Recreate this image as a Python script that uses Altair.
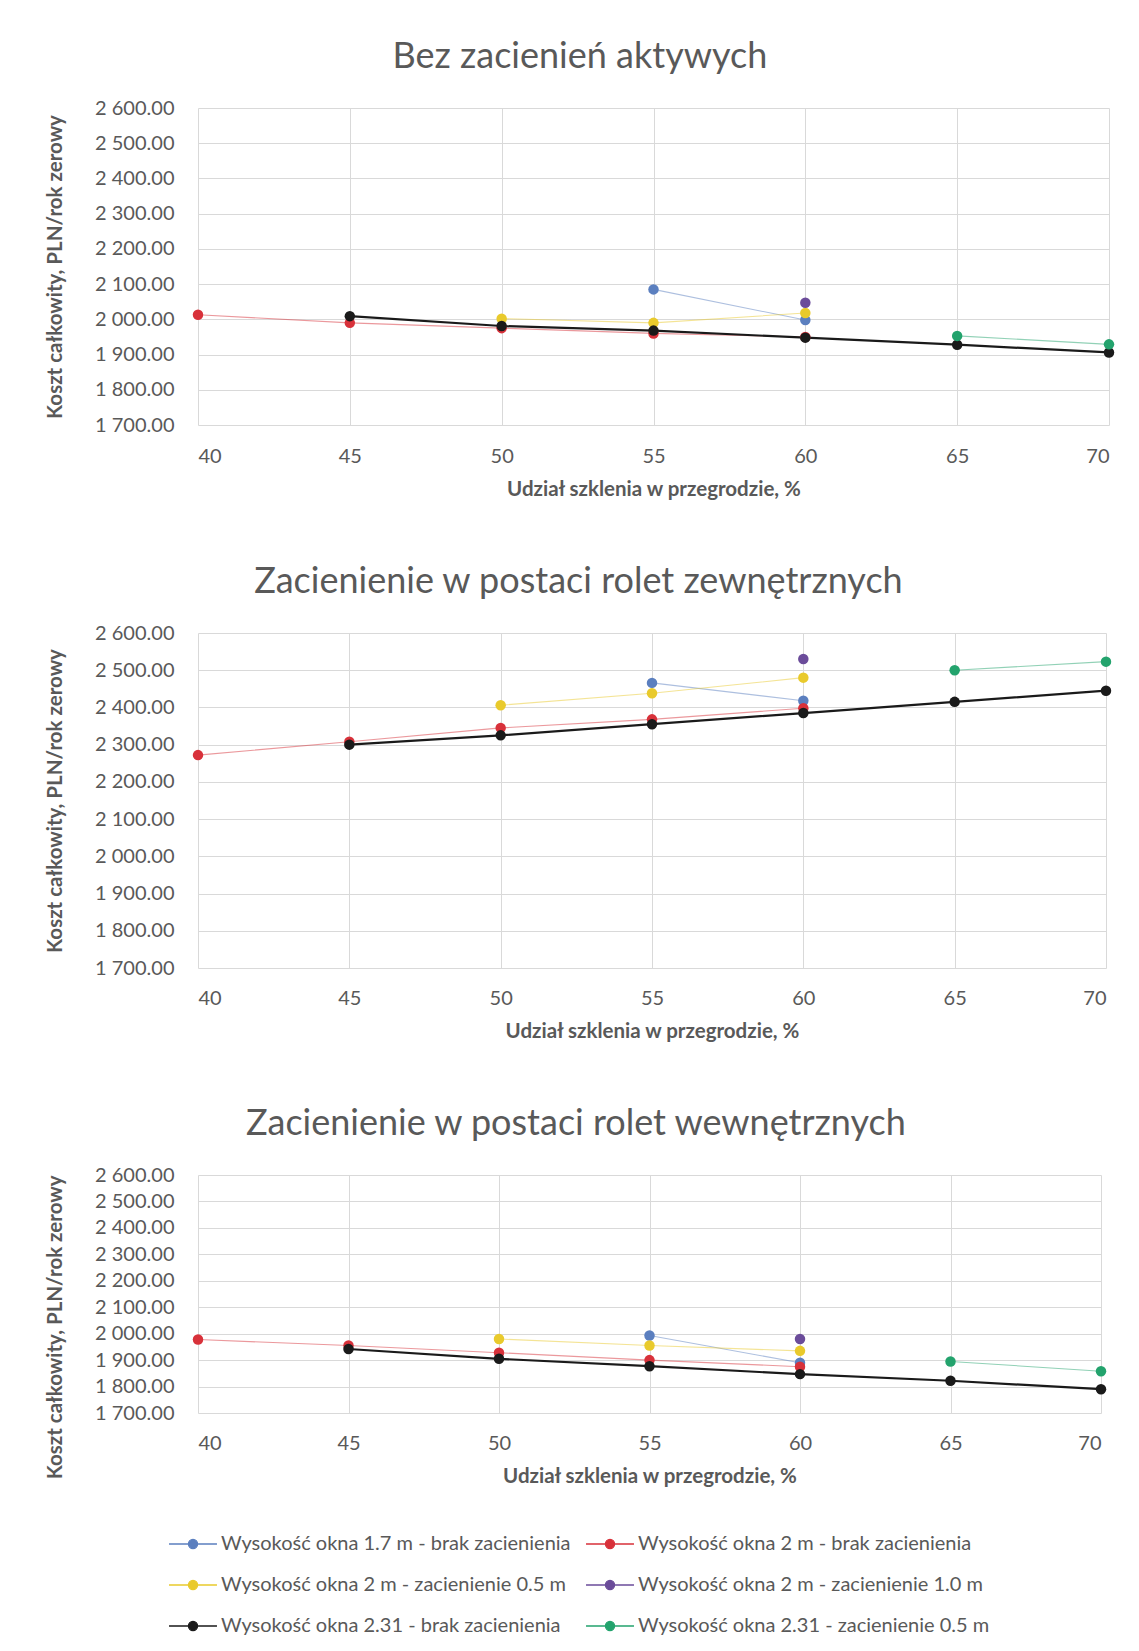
import altair as alt
import pandas as pd

# ---------------- data ----------------
x_ticks = [40, 45, 50, 55, 60, 65, 70]
y_ticks = [1700, 1800, 1900, 2000, 2100, 2200, 2300, 2400, 2500, 2600]

series_names = [
    "Wysokość okna 1.7 m - brak zacienienia",
    "Wysokość okna 2 m - brak zacienienia",
    "Wysokość okna 2 m - zacienienie 0.5 m",
    "Wysokość okna 2 m - zacienienie 1.0 m",
    "Wysokość okna 2.31 - brak zacienienia",
    "Wysokość okna 2.31 - zacienienie 0.5 m",
]
series_colors = ["#5B7FBF", "#D8313A", "#E9CA2C", "#6B4C9A", "#1A1A1A", "#23A36D"]

x_blue = [55, 60]
x_red = [40, 45, 50, 55, 60]
x_yellow = [50, 55, 60]
x_purple = [60]
x_black = [45, 50, 55, 60, 65, 70]
x_green = [65, 70]

# Chart 1: Bez zacienień aktywych
c1_blue = [2085, 1998]
c1_red = [2013, 1990, 1975, 1960, 1950]
c1_yellow = [2002, 1990, 2018]
c1_purple = [2047]
c1_black = [2009, 1981, 1968, 1948, 1928, 1906]
c1_green = [1953, 1929]

# Chart 2: rolety zewnętrzne
c2_blue = [2466, 2418]
c2_red = [2272, 2308, 2345, 2368, 2398]
c2_yellow = [2406, 2438, 2480]
c2_purple = [2530]
c2_black = [2300, 2325, 2355, 2385, 2415, 2445]
c2_green = [2500, 2523]

# Chart 3: rolety wewnętrzne
c3_blue = [1993, 1890]
c3_red = [1978, 1955, 1928, 1900, 1875]
c3_yellow = [1980, 1955, 1935]
c3_purple = [1980]
c3_black = [1942, 1905, 1877, 1847, 1822, 1790]
c3_green = [1895, 1858]

titles = [
    "Bez zacienień aktywych",
    "Zacienienie w postaci rolet zewnętrznych",
    "Zacienienie w postaci rolet wewnętrznych",
]
x_title = "Udział szklenia w przegrodzie, %"
y_title = "Koszt całkowity, PLN/rok zerowy"

xs = [x_blue, x_red, x_yellow, x_purple, x_black, x_green]


def make_df(vals):
    rows = []
    for name, xv, yv in zip(series_names, xs, vals):
        for a, b in zip(xv, yv):
            rows.append({"series": name, "x": a, "y": b})
    return pd.DataFrame(rows)


dfs = [
    make_df([c1_blue, c1_red, c1_yellow, c1_purple, c1_black, c1_green]),
    make_df([c2_blue, c2_red, c2_yellow, c2_purple, c2_black, c2_green]),
    make_df([c3_blue, c3_red, c3_yellow, c3_purple, c3_black, c3_green]),
]

FONT = "Lato"
GRAY = "#595959"

legend_path = ("M-1,0L-0.19,0M0.19,0L1,0M-0.19,0A0.19,0.19 0 1,0 0.19,0"
               "A0.19,0.19 0 1,0 -0.19,0Z")

# legend is laid out column by column: order domain so rows read as in the reference
leg_order = [0, 2, 4, 1, 3, 5]
color_scale = alt.Scale(domain=[series_names[i] for i in leg_order],
                        range=[series_colors[i] for i in leg_order])

legend = alt.Legend(title=None, orient="none", columns=2,
                    legendX=-30, legendY=1411,
                    symbolType=legend_path, symbolSize=2300,
                    symbolStrokeWidth=1.3, labelFontSize=20,
                    labelFont=FONT, labelColor=GRAY, labelOffset=3,
                    rowPadding=6, columnPadding=12, labelLimit=600)


def panel(df, title, w, h, x_label_pad, y_title_anchor=None):
    xaxis = alt.Axis(values=x_ticks, labelPadding=x_label_pad, titlePadding=13,
                     domain=False, ticks=False)
    yaxis_kw = dict(values=y_ticks, domain=False, ticks=False,
                    labelPadding=24, titlePadding=29, labelOverlap=False,
                    labelExpr="replace(format(datum.value, ',.2f'), ',', ' ')")
    if y_title_anchor:
        yaxis_kw["titleAnchor"] = y_title_anchor
    yaxis = alt.Axis(**yaxis_kw)
    xenc = alt.X("x:Q", title=x_title,
                 scale=alt.Scale(domain=[40, 70], nice=False), axis=xaxis)
    yenc = alt.Y("y:Q", title=y_title,
                 scale=alt.Scale(domain=[1700, 2600], nice=False), axis=yaxis)
    col = alt.Color("series:N", scale=color_scale, legend=legend)
    is_black = alt.datum.series == series_names[4]
    lines = alt.Chart(df).mark_line().encode(
        x=xenc, y=yenc, color=col, detail="series:N",
        strokeWidth=alt.condition(is_black, alt.value(2.2), alt.value(1.1)),
        opacity=alt.condition(is_black, alt.value(1.0), alt.value(0.5)),
    )
    pts = alt.Chart(df).mark_circle(size=110, opacity=1).encode(
        x=xenc, y=yenc, color=col,
    )
    return alt.layer(lines, pts).properties(
        width=w, height=h,
        title=alt.TitleParams(title, fontSize=36, font=FONT, color=GRAY,
                              fontWeight="normal", anchor="middle",
                              frame="bounds", offset=22),
    )


chart = alt.vconcat(
    panel(dfs[0], titles[0], 911, 317, 21),
    panel(dfs[1], titles[1], 908, 335, 20),
    panel(dfs[2], titles[2], 903, 238, 20, y_title_anchor="end"),
    spacing=64,
).configure_axis(
    labelFont=FONT, labelFontSize=20, labelColor=GRAY,
    titleFont=FONT, titleFontSize=20.5, titleColor=GRAY, titleFontWeight="bold",
    gridColor="#D9D9D9", gridWidth=1,
).configure_view(stroke=None).properties(
    padding={"left": 45, "top": 39, "right": 20, "bottom": 10},
    background="white",
)

chart.save("out.html", embed_options={"renderer": "svg", "actions": False})
